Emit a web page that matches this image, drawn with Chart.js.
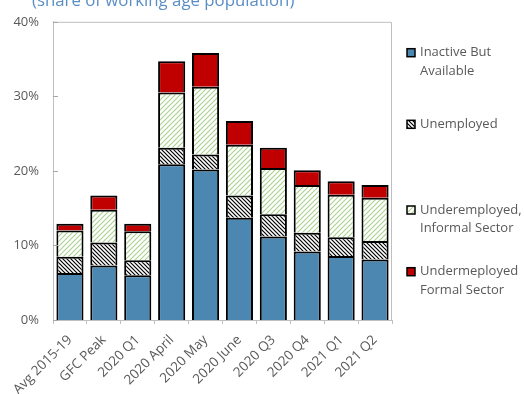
<!DOCTYPE html>
<html>
<head>
<meta charset="utf-8">
<script src="https://cdn.jsdelivr.net/npm/chart.js@4"></script>
<style>
html,body{margin:0;padding:0;background:#fff;}
#wrap{width:524px;height:394px;position:relative;}
</style>
</head>
<body>
<div id="wrap"><canvas id="c" width="524" height="394"></canvas></div>
<script>
const categories = ["Avg 2015-19","GFC Peak","2020 Q1","2020 April","2020 May","2020 June","2020 Q3","2020 Q4","2021 Q1","2021 Q2"];
const inactiveButAvailable = [6.3, 7.3, 6.0, 20.9, 20.2, 13.7, 11.2, 9.2, 8.6, 8.1];
const unemployed = [2.2, 3.1, 2.0, 2.2, 2.0, 3.0, 3.0, 2.5, 2.5, 2.5];
const underemployedInformal = [3.5, 4.4, 3.9, 7.4, 9.1, 6.8, 6.2, 6.4, 5.7, 5.8];
const underemployedFormal = [0.9, 1.9, 1.0, 4.2, 4.5, 3.2, 2.7, 2.0, 1.8, 1.7];
const seriesNames = [["Inactive But","Available"],["Unemployed"],["Underemployed,","Informal Sector"],["Undermeployed","Formal Sector"]];
const yTicks = [0, 10, 20, 30, 40];
const titleText = "(share of working age population)";

function makePattern(dir, color, size, lw) {
  const c = document.createElement('canvas');
  c.width = size; c.height = size;
  const g = c.getContext('2d');
  g.fillStyle = '#fff'; g.fillRect(0,0,size,size);
  g.strokeStyle = color; g.lineWidth = lw;
  g.beginPath();
  if (dir === 'back') {
    g.moveTo(-1,-1); g.lineTo(size+1,size+1);
    g.moveTo(-1,size-1); g.lineTo(1,size+1);
    g.moveTo(size-1,-1); g.lineTo(size+1,1);
  } else {
    g.moveTo(-1,size+1); g.lineTo(size+1,-1);
    g.moveTo(-1,1); g.lineTo(1,-1);
    g.moveTo(size-1,size+1); g.lineTo(size+1,size-1);
  }
  g.stroke();
  return g.createPattern(c,'repeat');
}
const ctx0 = document.getElementById('c').getContext('2d');
const hatchBlack = makePattern('back', '#000', 4, 1.2);
const hatchGreen = makePattern('fwd', '#a9d08e', 5, 1.1);
const fills = ['#4b87b0', hatchBlack, hatchGreen, '#c00000'];

const decor = {
  id: 'decor',
  afterDraw(chart) {
    const c = chart.ctx, a = chart.chartArea, y = chart.scales.y;
    c.save();
    // title (clipped at top)
    c.font = '16.8px "Open Sans"';
    c.fillStyle = '#5b8ec4';
    c.textBaseline = 'alphabetic';
    c.textAlign = 'left';
    c.fillText(titleText, 32, 6);
    // plot frame
    c.strokeStyle = '#bfbfbf'; c.lineWidth = 1;
    c.beginPath();
    c.moveTo(a.left+0.5, a.bottom); c.lineTo(a.left+0.5, a.top+0.5);
    c.lineTo(a.right-0.5, a.top+0.5); c.lineTo(a.right-0.5, a.bottom);
    c.stroke();
    // inner y ticks
    c.strokeStyle = '#a6a6a6';
    c.beginPath();
    yTicks.forEach(v => { const py = Math.round(y.getPixelForValue(v))+0.5; c.moveTo(a.left, py); c.lineTo(a.left+5, py); });
    c.stroke();
    // legend
    const lx = 407, boxSize = 8, tx = 420;
    const rows = [52.7, 124.3, 210, 271.7];
    c.font = '13px "Open Sans"';
    c.textBaseline = 'middle';
    rows.forEach((ry, i) => {
      c.fillStyle = fills[i];
      c.fillRect(lx, ry - boxSize/2, boxSize, boxSize);
      c.strokeStyle = '#000'; c.lineWidth = 1.5;
      c.strokeRect(lx, ry - boxSize/2, boxSize, boxSize);
      c.fillStyle = '#595959';
      seriesNames[i].forEach((t, k) => c.fillText(t, tx, ry + k*18.7));
    });
    c.restore();
  }
};

const mk = (label, data, i) => ({
  label, data, backgroundColor: fills[i], borderColor: '#000', borderWidth: 2,
  categoryPercentage: 0.8, barPercentage: 1
});

new Chart(ctx0, {
  type: 'bar',
  data: {
    labels: categories,
    datasets: [
      mk(seriesNames[0].join(' '), inactiveButAvailable, 0),
      mk(seriesNames[1].join(' '), unemployed, 1),
      mk(seriesNames[2].join(' '), underemployedInformal, 2),
      mk(seriesNames[3].join(' '), underemployedFormal, 3)
    ]
  },
  options: {
    responsive: false,
    animation: false,
    devicePixelRatio: 1,
    layout: { padding: { top: 18, right: 132, left: 0, bottom: 0 } },
    plugins: { legend: { display: false }, tooltip: { enabled: false }, title: { display: false } },
    scales: {
      x: {
        stacked: true,
        grid: { display: true, drawOnChartArea: false, offset: true, tickLength: 4, color: '#bfbfbf' },
        border: { display: true, color: '#bfbfbf' },
        ticks: { color: '#595959', font: { family: 'Open Sans', size: 13.5 }, maxRotation: 45, minRotation: 45, padding: 8, autoSkip: false },
        afterFit(s) { s.height = 74; }
      },
      y: {
        stacked: true, min: 0, max: 40,
        afterBuildTicks(s) { s.ticks = yTicks.map(v => ({ value: v })); },
        grid: { display: false, drawTicks: false },
        border: { display: true, color: '#bfbfbf' },
        ticks: { color: '#595959', font: { family: 'Open Sans', size: 13 }, padding: 14, callback: v => v + '%' },
        afterFit(s) { s.width = 53; }
      }
    }
  },
  plugins: [decor]
});
</script>
</body>
</html>
